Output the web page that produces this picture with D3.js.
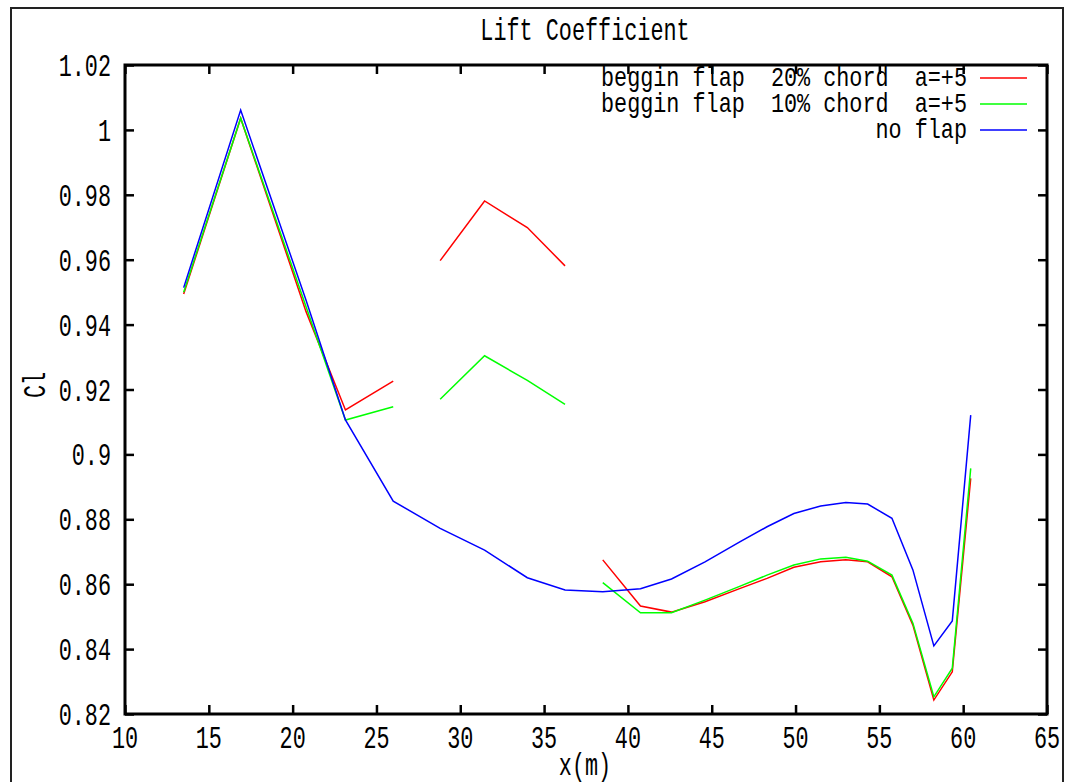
<!DOCTYPE html>
<html>
<head>
<meta charset="utf-8">
<script src="https://cdn.jsdelivr.net/npm/d3@7"></script>
<style>
  html, body { margin: 0; padding: 0; background: #fff; }
  svg { display: block; }
  text { font-family: "Liberation Mono", "DejaVu Sans Mono", monospace; fill: #000; }
</style>
</head>
<body>
<svg id="chart" width="1069" height="782"></svg>
<script>
// ---- data ----
const title = "Lift Coefficient";
const xLabel = "x(m)";
const yLabel = "Cl";
const xTicks = [10, 15, 20, 25, 30, 35, 40, 45, 50, 55, 60, 65];
const yTicks = [0.82, 0.84, 0.86, 0.88, 0.9, 0.92, 0.94, 0.96, 0.98, 1, 1.02];
const seriesNames = ["beggin flap  20% chord  a=+5", "beggin flap  10% chord  a=+5", "no flap"];
const seriesColors = ["#ff0000", "#00ff00", "#0000ff"];

const xPos = [13.5, 16.9, 20.8, 23.15, 26.0, 28.8, 31.45, 34.0, 36.25, 38.5, 40.75, 42.6,
              44.6, 46.7, 48.3, 49.9, 51.5, 53.0, 54.3, 55.75, 57.0, 58.25, 59.35, 60.45];
const clFlap20 = [0.9494, 1.0036, 0.9440, 0.9137, 0.9226, 0.9597, 0.9781, 0.9699, 0.9581, 0.8675, 0.8533, 0.8514,
                  0.8546, 0.8587, 0.8618, 0.8652, 0.8669, 0.8675, 0.8669, 0.8623, 0.8474, 0.8243, 0.8330, 0.8926];
const clFlap10 = [0.9500, 1.0036, 0.9455, 0.9106, 0.9147, 0.9170, 0.9304, 0.9228, 0.9154, 0.8605, 0.8512, 0.8512,
                  0.8551, 0.8594, 0.8628, 0.8659, 0.8678, 0.8683, 0.8671, 0.8628, 0.8480, 0.8253, 0.8341, 0.8957];
const clNoFlap = [0.9514, 1.0061, 0.9475, 0.9106, 0.8856, 0.8772, 0.8705, 0.8620, 0.8582, 0.8577, 0.8586, 0.8616,
                  0.8669, 0.8731, 0.8777, 0.8818, 0.8841, 0.8852, 0.8847, 0.8803, 0.8644, 0.8410, 0.8487, 0.9121];
// flap runs are broken into separate pieces (index ranges, inclusive)
const flapSegments = [[0, 4], [5, 8], [9, 23]];
const noFlapSegments = [[0, 23]];

// ---- layout ----
const W = 1069, H = 782;
const plot = { left: 125, right: 1047, top: 65, bottom: 714 };
const svg = d3.select("#chart");
const x = d3.scaleLinear().domain([10, 65]).range([plot.left, plot.right]);
const y = d3.scaleLinear().domain([0.82, 1.02]).range([plot.bottom, plot.top]);
const FS = 21.8, SY = 1.4;

function label(sel, tx, ty, str, anchor, rot, sy) {
  const g = sel.append("g").attr("transform", `translate(${tx},${ty})` + (rot ? ` rotate(${rot})` : "") + ` scale(1,${sy || SY})`);
  g.append("text").attr("x", 0).attr("y", 0).attr("text-anchor", anchor || "middle")
    .attr("font-size", FS).attr("xml:space", "preserve").style("white-space", "pre").text(str);
  return g;
}

// outer window frame
svg.append("path")
  .attr("d", `M11,${H} L11,8 L1063,8 L1063,${H}`)
  .attr("fill", "none").attr("stroke", "#222").attr("stroke-width", 2);

// title
label(svg, 585, 40, title, "middle");

// ticks (inward, mirrored on all four sides)
const tickLen = 9;
const gAxes = svg.append("g");
gAxes.append("g").attr("transform", `translate(0,${plot.bottom})`)
  .call(d3.axisBottom(x).tickValues(xTicks).tickSize(-tickLen).tickSizeOuter(0).tickFormat(""));
gAxes.append("g").attr("transform", `translate(0,${plot.top})`)
  .call(d3.axisTop(x).tickValues(xTicks).tickSize(-tickLen).tickSizeOuter(0).tickFormat(""));
gAxes.append("g").attr("transform", `translate(${plot.left},0)`)
  .call(d3.axisLeft(y).tickValues(yTicks).tickSize(-tickLen).tickSizeOuter(0).tickFormat(""));
gAxes.append("g").attr("transform", `translate(${plot.right},0)`)
  .call(d3.axisRight(y).tickValues(yTicks).tickSize(-tickLen).tickSizeOuter(0).tickFormat(""));
gAxes.selectAll(".domain").remove();
gAxes.selectAll(".tick line").attr("stroke", "#000").attr("stroke-width", 2.5);

// tick labels
xTicks.forEach(v => label(svg, x(v), 748, String(v), "middle"));
yTicks.forEach(v => label(svg, 111, y(v) + 11, d3.format("")(v), "end"));

// axis titles
label(svg, 585, 775, xLabel, "middle");
label(svg, 45, 385, yLabel, "middle", -90);

// series
const line = d3.line().x(d => x(d[0])).y(d => y(d[1]));
const series = [
  { vals: clFlap20, segs: flapSegments },
  { vals: clFlap10, segs: flapSegments },
  { vals: clNoFlap, segs: noFlapSegments }
];
const gLines = svg.append("g");
series.forEach((s, i) => {
  s.segs.forEach(([a, b]) => {
    const pts = d3.range(a, b + 1).map(k => [xPos[k], s.vals[k]]);
    gLines.append("path").attr("d", line(pts)).attr("fill", "none")
      .attr("stroke", seriesColors[i]).attr("stroke-width", 1.5);
  });
});

// plot border
svg.append("rect").attr("x", plot.left).attr("y", plot.top)
  .attr("width", plot.right - plot.left).attr("height", plot.bottom - plot.top)
  .attr("fill", "none").attr("stroke", "#000").attr("stroke-width", 3);

// legend
const legendRows = [78, 104, 130];
seriesNames.forEach((n, i) => {
  label(svg, 967, legendRows[i] + 8, n, "end", 0, 1.25);
  svg.append("line").attr("x1", 980).attr("x2", 1027)
    .attr("y1", legendRows[i]).attr("y2", legendRows[i])
    .attr("stroke", seriesColors[i]).attr("stroke-width", 1.5);
});
</script>
</body>
</html>
